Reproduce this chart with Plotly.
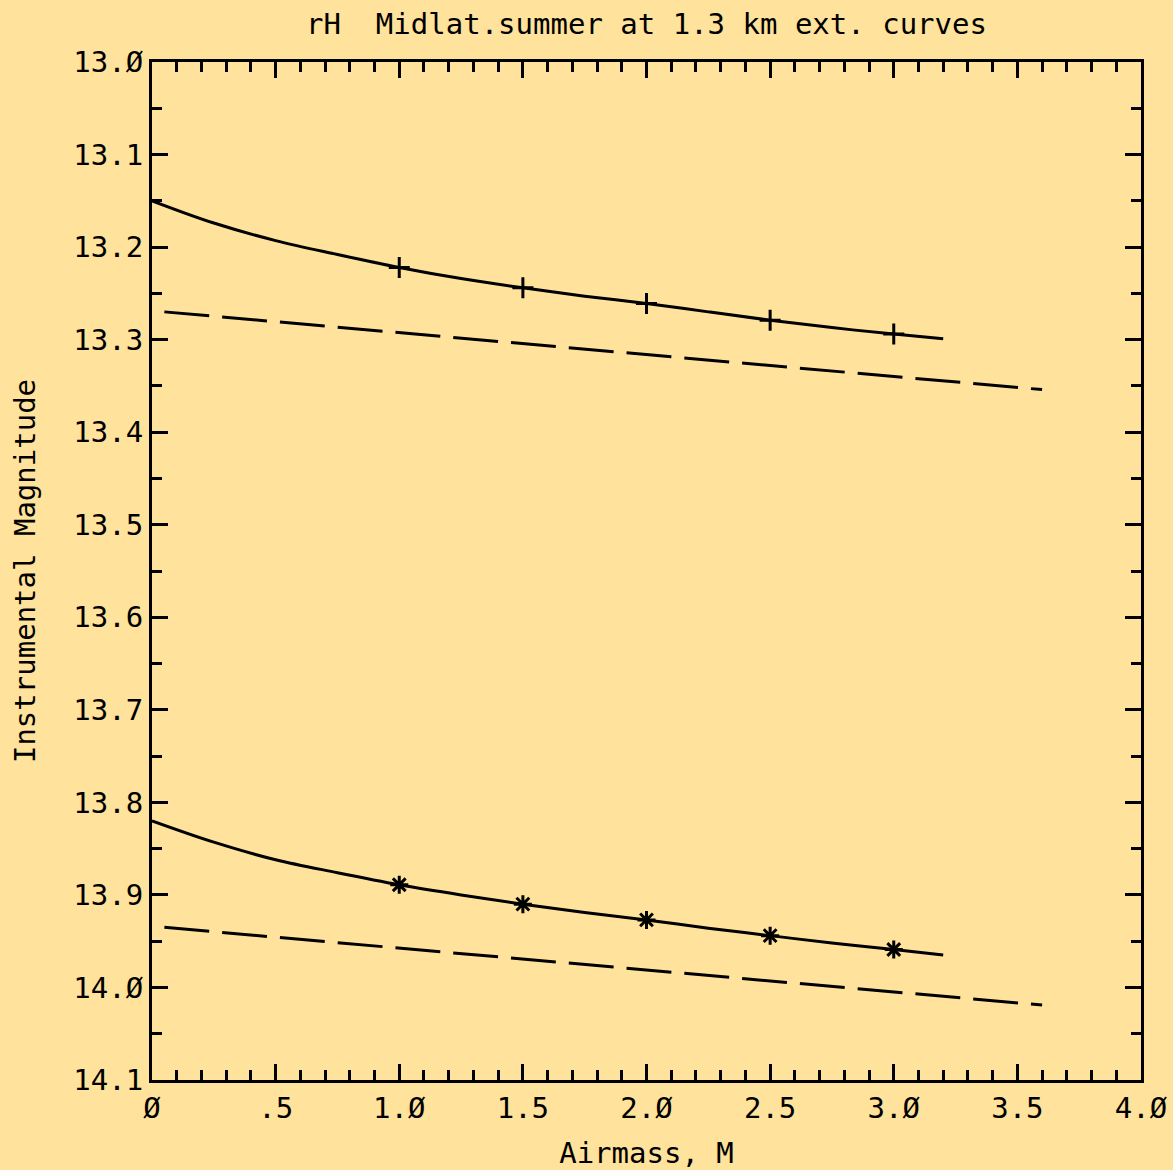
import plotly.graph_objects as go

# Data
x_curve = [0.0, 0.25, 0.5, 0.75, 1.0, 1.25, 1.5, 1.75, 2.0, 2.25, 2.5, 2.75, 3.0, 3.2]
upper_solid = [13.150, 13.174, 13.193, 13.208, 13.222, 13.234, 13.244, 13.253,
               13.261, 13.270, 13.279, 13.287, 13.294, 13.299]
lower_solid = [13.820, 13.843, 13.862, 13.876, 13.889, 13.900, 13.910, 13.919,
               13.927, 13.936, 13.944, 13.952, 13.959, 13.965]

x_marks = [1.0, 1.5, 2.0, 2.5, 3.0]
upper_marks = [13.222, 13.244, 13.261, 13.279, 13.294]
lower_marks = [13.889, 13.910, 13.927, 13.944, 13.959]

x_dash = [0.05, 3.6]
upper_dash = [13.270, 13.354]
lower_dash = [13.935, 14.019]

x_tickvals = [0, 0.5, 1.0, 1.5, 2.0, 2.5, 3.0, 3.5, 4.0]
x_ticktext = ["Ø", ".5", "1.Ø", "1.5", "2.Ø", "2.5", "3.Ø", "3.5", "4.Ø"]
y_tickvals = [13.0, 13.1, 13.2, 13.3, 13.4, 13.5, 13.6, 13.7, 13.8, 13.9, 14.0, 14.1]
y_ticktext = ["13.Ø", "13.1", "13.2", "13.3", "13.4", "13.5", "13.6", "13.7",
              "13.8", "13.9", "14.Ø", "14.1"]

BG = "#FFE29B"
INK = "black"
FONT = "DejaVu Sans Mono"
FS = 29

fig = go.Figure()

fig.add_trace(go.Scatter(x=x_curve, y=upper_solid, mode="lines",
                         line=dict(color=INK, width=3, shape="spline"),
                         showlegend=False))
fig.add_trace(go.Scatter(x=x_curve, y=lower_solid, mode="lines",
                         line=dict(color=INK, width=3, shape="spline"),
                         showlegend=False))
fig.add_trace(go.Scatter(x=x_dash, y=upper_dash, mode="lines",
                         line=dict(color=INK, width=3, dash="45px,13px"),
                         showlegend=False))
fig.add_trace(go.Scatter(x=x_dash, y=lower_dash, mode="lines",
                         line=dict(color=INK, width=3, dash="45px,13px"),
                         showlegend=False))
fig.add_trace(go.Scatter(x=x_marks, y=upper_marks, mode="markers",
                         marker=dict(symbol="cross-thin-open", size=15, color=INK,
                                     line=dict(color=INK, width=3)),
                         showlegend=False))
fig.add_trace(go.Scatter(x=x_marks, y=lower_marks, mode="markers",
                         marker=dict(symbol="asterisk-open", size=15, color=INK,
                                     line=dict(color=INK, width=3)),
                         showlegend=False))

axis_common = dict(
    showgrid=False, zeroline=False,
    showline=True, linecolor=INK, linewidth=3, mirror="ticks",
    ticks="inside", tickcolor=INK, tickwidth=3, ticklen=16,
    tickfont=dict(family=FONT, size=FS, color=INK),
)

fig.update_xaxes(
    range=[0, 4.0], tickmode="array", tickvals=x_tickvals, ticktext=x_ticktext,
    minor=dict(dtick=0.1, tick0=0, ticks="inside", ticklen=10, tickwidth=3, tickcolor=INK),
    title=dict(text="Airmass, M", font=dict(family=FONT, size=FS, color=INK), standoff=24),
    **axis_common,
)
fig.update_yaxes(
    range=[14.1, 13.0], tickmode="array", tickvals=y_tickvals, ticktext=y_ticktext,
    minor=dict(dtick=0.05, tick0=13.0, ticks="inside", ticklen=10, tickwidth=3, tickcolor=INK),
    title=dict(text="Instrumental Magnitude", font=dict(family=FONT, size=FS, color=INK), standoff=30),
    **axis_common,
)

fig.update_layout(
    width=1173, height=1170,
    margin=dict(l=152, r=32, t=62, b=90, autoexpand=False),
    paper_bgcolor=BG, plot_bgcolor=BG,
    title=dict(text="rH\u00a0 Midlat.summer at 1.3 km ext. curves",
               font=dict(family=FONT, size=FS, color=INK),
               x=(152 + 1141) / 2 / 1173, xanchor="center",
               y=1 - 24 / 1170, yanchor="middle", yref="container"),
)

fig.write_html("out.html")
